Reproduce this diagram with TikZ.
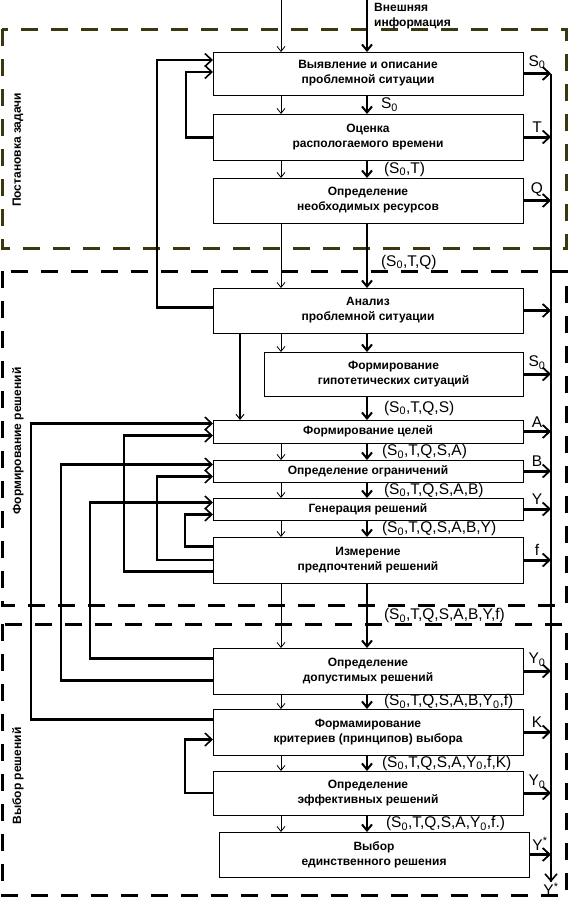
\documentclass[tikz,border=0pt]{standalone}
\usepackage{fontspec}
\setmainfont{Liberation Sans}
\usepackage{xcolor}
\usepackage{tikz}
\usetikzlibrary{arrows.meta,positioning,calc}
\definecolor{zoneolive}{RGB}{58,56,16}

\begin{document}
\begin{tikzpicture}[x=1pt,y=-1pt,
   every node/.style={font=\fontsize{12}{15}\selectfont\bfseries},
   stage/.style={draw,rectangle,line width=0.8pt,minimum width=310pt,align=center,
                 inner sep=0pt,outer sep=0pt},
   lbl/.style={font=\fontsize{15.5}{17}\selectfont,inner sep=0pt},
   outlbl/.style={font=\fontsize{15.5}{17}\selectfont,inner sep=0pt},
   zone/.style={line width=3pt,dash pattern=on 17pt off 13pt},
   zonelbl/.style={rotate=90,inner sep=0pt},
   flowA/.style={line width=0.8pt,-{Straight Barb[length=5pt,width=8pt]}},
   flowB/.style={line width=2pt,-{Straight Barb[length=6pt,width=10pt]}},
   drop/.style={line width=1.6pt,-{Straight Barb[length=5pt,width=8pt,line width=1pt]}},
   fb/.style={line width=2.6pt,-{Straight Barb[length=7pt,width=13pt,line width=1.6pt]}},
   outarr/.style={line width=3pt,-{Straight Barb[length=7pt,width=13pt,line width=1.8pt]}},
   busline/.style={line width=1.6pt}
]
\useasboundingbox (0,0) rectangle (569,900);

% Zones
\draw[zone,draw=zoneolive] (2,29) rectangle (566,248);
\draw[zone] (2,271) rectangle (566,605);
\draw[zone] (2,624) rectangle (566,895);
\node[zonelbl] (zoneA) at (18,150) {Постановка задачи};
\node[zonelbl] (zoneB) at (18,441) {Формирование решений};
\node[zonelbl] (zoneC) at (18,776) {Выбор решений};

% Columns and bus
\coordinate (colL) at (281,0);
\coordinate (colR) at (367,0);
\coordinate (col240) at (240,0);
\coordinate (bus) at (551,0);
\coordinate (busEnd) at (551,882);

% Stages
\node[stage,minimum height=43pt] (descr) at (368,73.5) {Выявление и описание\\проблемной ситуации};
\node[stage,minimum height=46pt,below=19pt of descr] (timeest) {Оценка\\распологаемого времени};
\node[stage,minimum height=45pt,below=18pt of timeest] (resrc) {Определение\\необходимых ресурсов};
\node[stage,minimum height=45pt,below=65pt of resrc] (anal) {Анализ\\проблемной ситуации};
\node[stage,minimum height=44pt,minimum width=259pt,below=19pt of anal.south east,anchor=north east] (hypo) {Формирование\\гипотетических ситуаций};
\node[stage,minimum height=23pt,below=24pt of hypo.south east,anchor=north east] (goals) {Формирование целей};
\node[stage,minimum height=22pt,below=17pt of goals] (limits) {Определение ограничений};
\node[stage,minimum height=22pt,below=16pt of limits] (gen) {Генерация решений};
\node[stage,minimum height=46pt,below=17pt of gen] (pref) {Измерение\\предпочтений решений};
\node[stage,minimum height=46pt,below=65pt of pref] (admis) {Определение\\допустимых решений};
\node[stage,minimum height=46pt,below=15pt of admis] (crit) {Формамирование\\критериев (принципов) выбора};
\node[stage,minimum height=44pt,below=16pt of crit] (effic) {Определение\\эффективных решений};
\node[stage,minimum height=45pt,below=17pt of effic,xshift=6pt] (choice) {Выбор\\единственного решения};

% External input
\coordinate (inL) at (281,0);
\coordinate (inR) at (367,0);
\node[anchor=north west,align=left,inner sep=0pt] (extinfo) at (374,3) {Внешняя\\информация};
\draw[flowA] (inL) -- (descr.north -| inL);
\draw[flowB] (inR) -- (descr.north -| inR);

% Main flow
\draw[flowA] (descr.south -| colL) -- (timeest.north -| colL);
\draw[flowB] (descr.south -| colR) -- node[lbl,right=13pt]{S\textsubscript{0}} (timeest.north -| colR);
\draw[flowA] (timeest.south -| colL) -- (resrc.north -| colL);
\draw[flowB] (timeest.south -| colR) -- node[lbl,right=16pt]{(S\textsubscript{0},T)} (resrc.north -| colR);
\draw[flowA] (resrc.south -| colL) -- (anal.north -| colL);
\draw[flowB] (resrc.south -| colR) -- node[lbl,right=13pt,pos=0.6]{(S\textsubscript{0},T,Q)} (anal.north -| colR);
\draw[flowA] (anal.south -| colL) -- (hypo.north -| colL);
\draw[flowB] (anal.south -| colR) -- (hypo.north -| colR);
\draw[drop] (anal.south -| col240) -- (goals.north -| col240);
\draw[flowB] (hypo.south -| colR) -- node[lbl,right=16pt]{(S\textsubscript{0},T,Q,S)} (goals.north -| colR);
\draw[flowA] (goals.south -| colL) -- (limits.north -| colL);
\draw[flowB] (goals.south -| colR) -- node[lbl,right=14pt]{(S\textsubscript{0},T,Q,S,A)} (limits.north -| colR);
\draw[flowA] (limits.south -| colL) -- (gen.north -| colL);
\draw[flowB] (limits.south -| colR) -- node[lbl,right=16pt]{(S\textsubscript{0},T,Q,S,A,B)} (gen.north -| colR);
\draw[flowA] (gen.south -| colL) -- (pref.north -| colL);
\draw[flowB] (gen.south -| colR) -- node[lbl,right=14pt]{(S\textsubscript{0},T,Q,S,A,B,Y)} (pref.north -| colR);
\draw[flowA] (pref.south -| colL) -- (admis.north -| colL);
\draw[flowB] (pref.south -| colR) -- node[lbl,right=16pt]{(S\textsubscript{0},T,Q,S,A,B,Y,f)} (admis.north -| colR);
\draw[flowA] (admis.south -| colL) -- (crit.north -| colL);
\draw[flowB] (admis.south -| colR) -- node[lbl,right=16pt]{(S\textsubscript{0},T,Q,S,A,B,Y\textsubscript{0},f)} (crit.north -| colR);
\draw[flowA] (crit.south -| colL) -- (effic.north -| colL);
\draw[flowB] (crit.south -| colR) -- node[lbl,right=14pt]{(S\textsubscript{0},T,Q,S,A,Y\textsubscript{0},f,K)} (effic.north -| colR);
\draw[flowA] (effic.south -| colL) -- (choice.north -| colL);
\draw[flowB] (effic.south -| colR) -- node[lbl,right=18pt]{(S\textsubscript{0},T,Q,S,A,Y\textsubscript{0},f.)} (choice.north -| colR);

% Feedback loops
\draw[fb] ([yshift=3pt]anal.west) -- ++(-56,0) |- ([yshift=13.5pt]descr.west);
\draw[fb] ([yshift=-0.5pt]timeest.west) -- ++(-27,0) |- ([yshift=1.5pt]descr.west);
\draw[fb] ([yshift=12.5pt]crit.west) -- ++(-182,0) |- ([yshift=8pt]goals.west);
\draw[fb] ([yshift=-11.5pt]pref.west) -- ++(-89,0) |- ([yshift=-4pt]goals.west);
\draw[fb] ([yshift=-9.5pt]admis.west) -- ++(-152,0) |- ([yshift=6.5pt]limits.west);
\draw[fb] (pref.west) -- ++(-56,0) |- ([yshift=-5.5pt]limits.west);
\draw[fb] ([yshift=12.5pt]admis.west) -- ++(-123,0) |- ([yshift=6.5pt]gen.west);
\draw[fb] ([yshift=13.5pt]pref.west) -- ++(-28,0) |- ([yshift=-5.5pt]gen.west);
\draw[fb] (effic.west) -- ++(-28,0) |- ([yshift=-7.5pt]crit.west);

% Outputs to the bus
\draw[busline] (descr.east -| bus) -- (busEnd);
\draw[busline,-{Straight Barb[length=7pt,width=12pt]}] ($(busEnd)+(0,-10)$) -- (busEnd);
\node[outlbl,below=1pt of busEnd] (ystar) {Y\textsuperscript{*}};
\draw[outarr] (descr.east) -- node[outlbl,above=3pt]{S\textsubscript{0}} (descr.east -| bus);
\draw[outarr] (timeest.east) -- node[outlbl,above=3pt]{T} (timeest.east -| bus);
\draw[outarr] (resrc.east) -- node[outlbl,above=3pt]{Q} (resrc.east -| bus);
\draw[outarr] (anal.east) -- (anal.east -| bus);
\draw[outarr] (hypo.east) -- node[outlbl,above=3pt]{S\textsubscript{0}} (hypo.east -| bus);
\draw[outarr] (goals.east) -- node[outlbl,above=3pt]{A} (goals.east -| bus);
\draw[outarr] (limits.east) -- node[outlbl,above=3pt]{B} (limits.east -| bus);
\draw[outarr] (gen.east) -- node[outlbl,above=3pt]{Y} (gen.east -| bus);
\draw[outarr] (pref.east) -- node[outlbl,above=3pt]{f} (pref.east -| bus);
\draw[outarr] (admis.east) -- node[outlbl,above=3pt]{Y\textsubscript{0}} (admis.east -| bus);
\draw[outarr] (crit.east) -- node[outlbl,above=3pt]{K} (crit.east -| bus);
\draw[outarr] (effic.east) -- node[outlbl,above=3pt]{Y\textsubscript{0}} (effic.east -| bus);
\draw[outarr] (choice.east) -- node[outlbl,above=3pt]{Y\textsuperscript{*}} (choice.east -| bus);

\end{tikzpicture}
\end{document}
